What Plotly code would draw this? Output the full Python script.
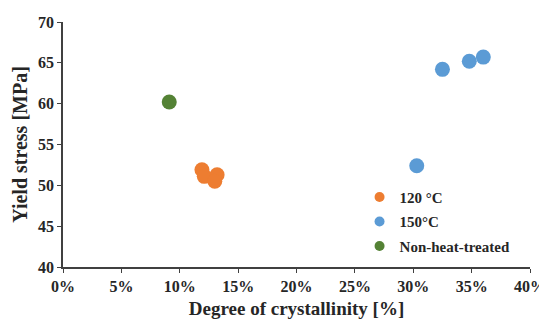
import plotly.graph_objects as go

# Data (degree of crystallinity in %, yield stress in MPa)
cryst_120 = [11.9, 12.1, 13.2, 13.0]
stress_120 = [51.9, 51.1, 51.3, 50.5]
cryst_150 = [30.3, 32.5, 34.8, 36.0]
stress_150 = [52.4, 64.2, 65.2, 65.7]
cryst_nht = [9.1]
stress_nht = [60.2]

x_ticks = [0, 5, 10, 15, 20, 25, 30, 35, 40]
y_ticks = [40, 45, 50, 55, 60, 65, 70]

FONT = "Liberation Serif"
TXT = "#262626"

fig = go.Figure()
series = [
    ("120 °C", cryst_120, stress_120, "#ED7D31"),
    ("150°C", cryst_150, stress_150, "#5B9BD5"),
    ("Non-heat-treated", cryst_nht, stress_nht, "#548235"),
]
for name, xs, ys, col in series:
    fig.add_trace(go.Scatter(
        x=xs, y=ys, mode="markers", name=f"<b>{name}</b>", legendgroup=name,
        showlegend=False,
        marker=dict(size=15, color=col, line=dict(width=0)),
    ))
# legend entries with smaller symbols
for name, xs, ys, col in series:
    fig.add_trace(go.Scatter(
        x=[None], y=[None], mode="markers", name=f"<b>{name}</b>", legendgroup=name,
        marker=dict(size=10, color=col, line=dict(width=0)),
    ))

axis_common = dict(
    showgrid=False, zeroline=False, showline=True, linecolor="#404040", linewidth=1.5,
    ticks="outside", ticklen=4, tickcolor="#404040", tickwidth=1,
    tickfont=dict(family=FONT, size=16, color=TXT), automargin=False,
)
fig.update_xaxes(range=[0, 40], tickvals=x_ticks, ticktext=[f"<b>{v}%</b>" for v in x_ticks],
                 title=dict(text="<b>Degree of crystallinity [%]</b>",
                            font=dict(family=FONT, size=19, color=TXT), standoff=8),
                 **axis_common)
fig.update_yaxes(range=[40, 70], tickvals=y_ticks, ticktext=[f"<b>{v}</b>" for v in y_ticks],
                 title=dict(text="<b>Yield stress [MPa]</b>",
                            font=dict(family=FONT, size=20, color=TXT), standoff=5),
                 **axis_common)

# the page body adds an 8 px offset, so the figure is sized to fit the 547x320 window
fig.update_layout(
    width=539, height=312,
    margin=dict(l=55, r=17, t=14, b=53),
    paper_bgcolor="white", plot_bgcolor="white",
    showlegend=True,
    legend=dict(x=0.635, y=0.352, xanchor="left", yanchor="top",
                font=dict(family=FONT, size=15, color=TXT),
                tracegroupgap=2, bgcolor="rgba(0,0,0,0)", itemwidth=30),
)

fig.write_html("out.html")
